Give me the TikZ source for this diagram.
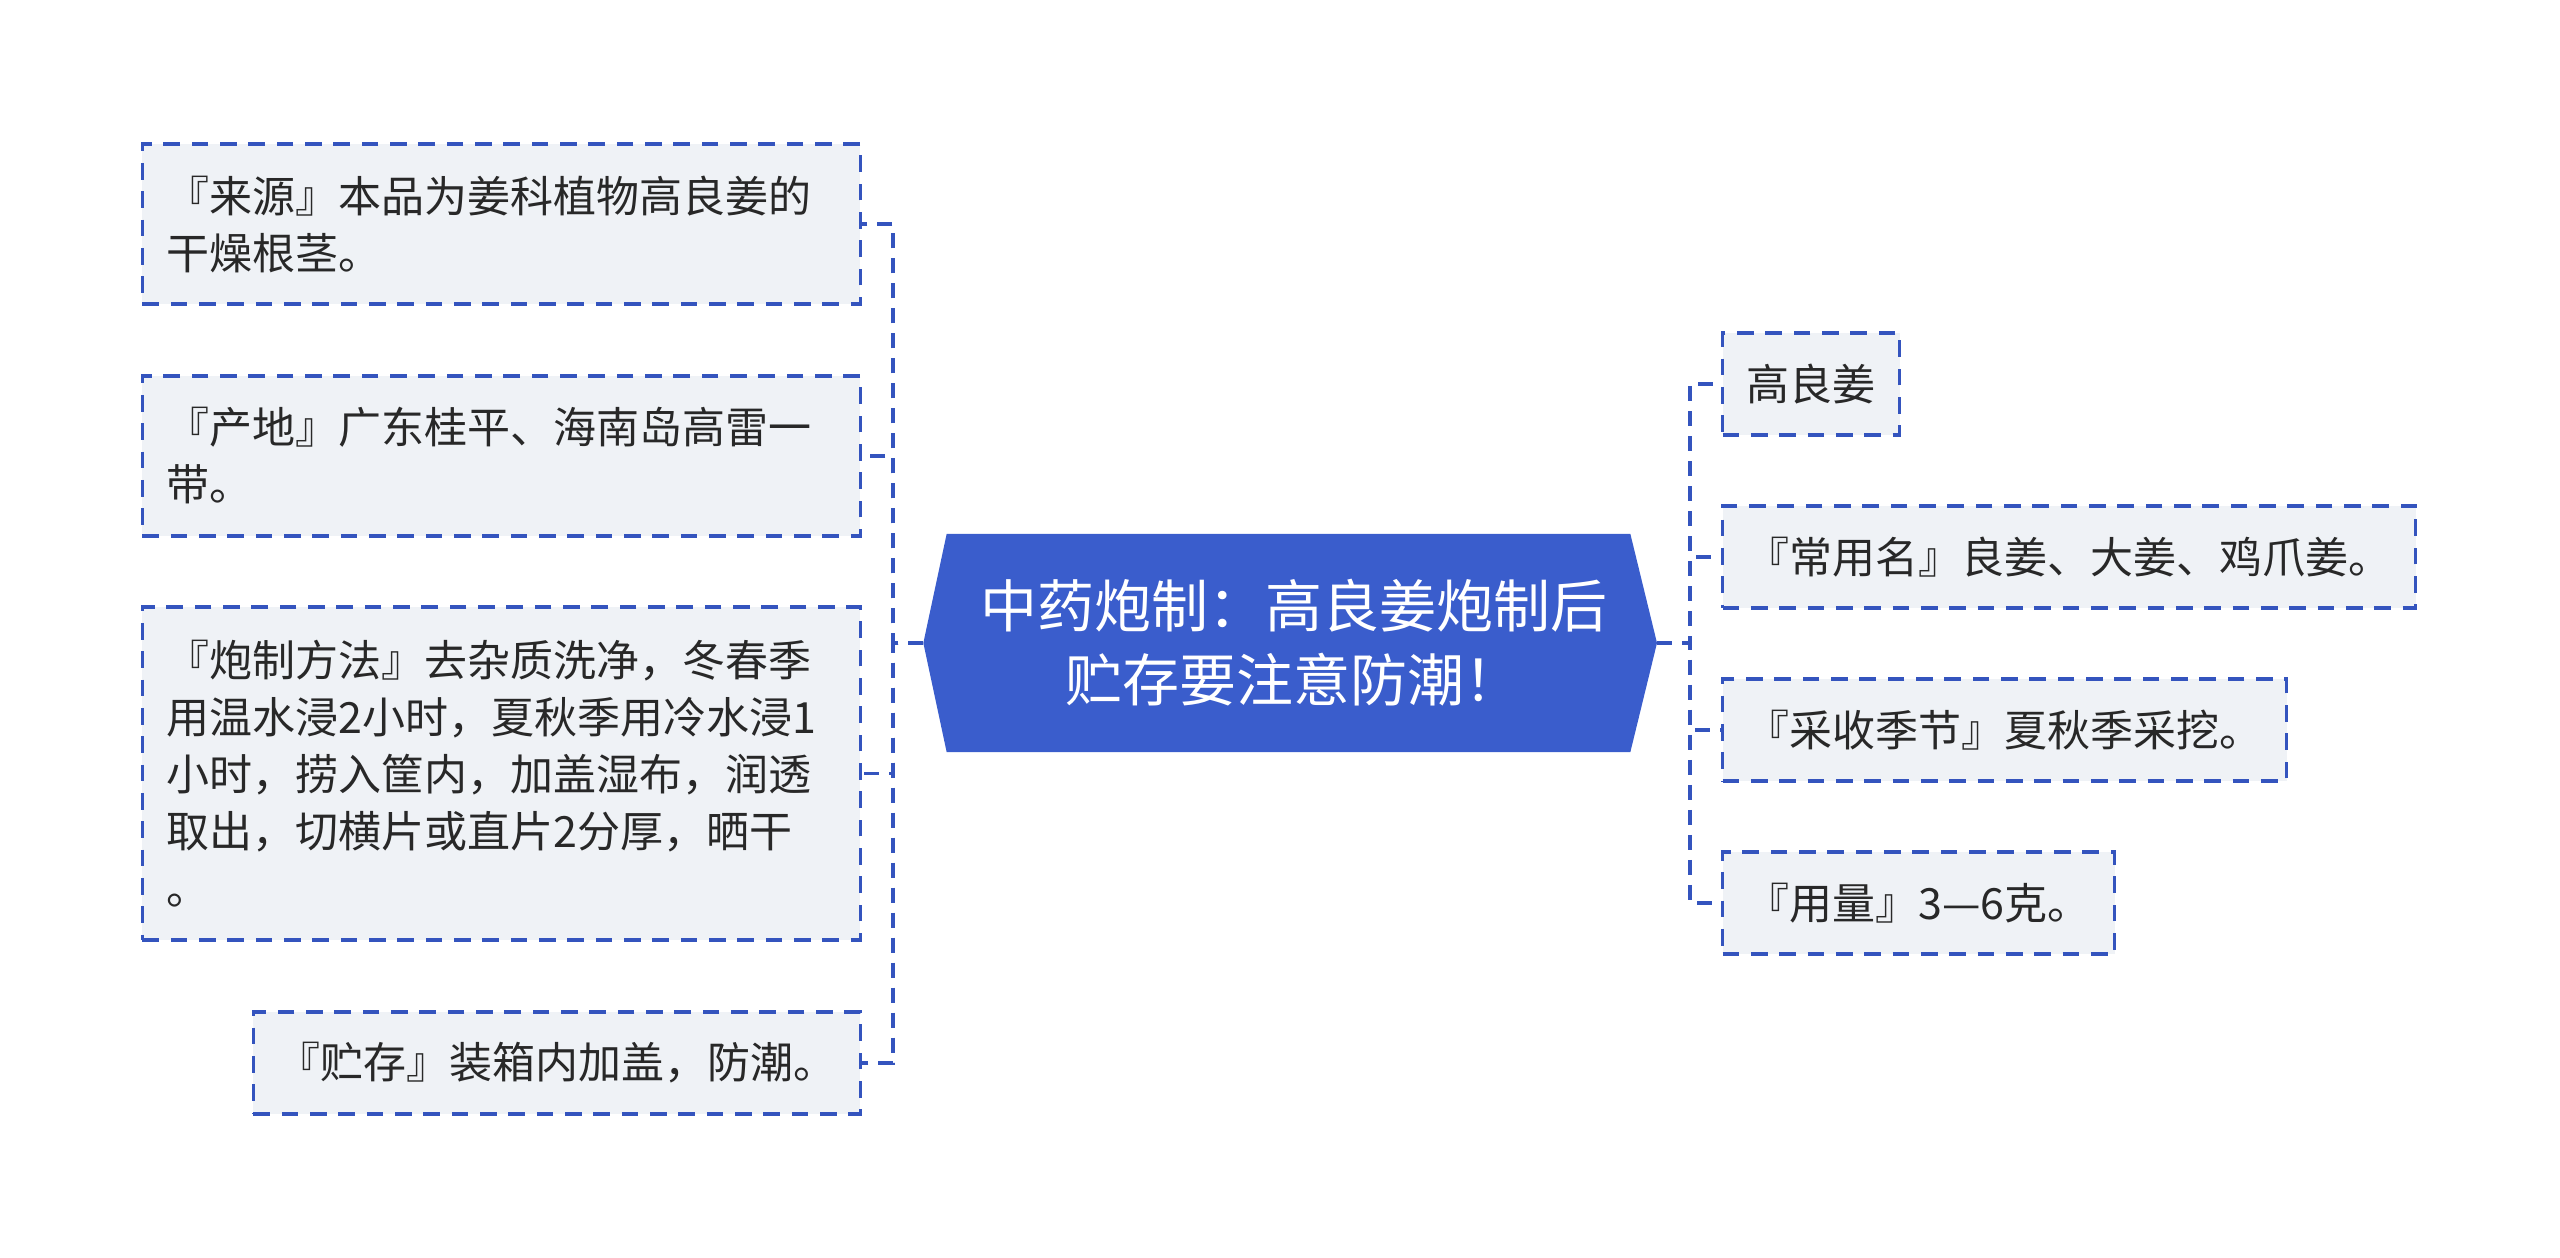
\documentclass[tikz,border=0pt]{standalone}
\usepackage{fontspec}
\setmainfont{Noto Sans CJK SC}
\usetikzlibrary{backgrounds}
\definecolor{rootblue}{RGB}{58,93,204}
\definecolor{linkblue}{RGB}{52,84,190}
\definecolor{boxgray}{RGB}{239,242,246}
\definecolor{textgray}{RGB}{40,40,40}
\tikzstyle{central}=[shape=rectangle,
                text=white,
                font=\fontsize{17.1pt}{22.2pt}\selectfont,
                align=center,
                minimum width=221.7pt,
                minimum height=65.1pt]
\tikzstyle{topic}=[shape=rectangle,
                fill=boxgray,
                draw=linkblue,
                line width=0.95pt,
                dash pattern=on 5pt off 3.5pt,
                text=textgray,
                font=\fontsize{12.9pt}{17.1pt}\selectfont,
                align=left,
                inner xsep=7.2pt,
                inner ysep=0pt,
                minimum height=30.6pt]
\tikzstyle{link}=[draw=linkblue,
                line width=1.15pt,
                dash pattern=on 4.5pt off 3pt]

\begin{document}
\begin{tikzpicture}[x=0.3pt,y=-0.3pt]
\useasboundingbox (0,0) rectangle (2560,1258);

% central topic
\node[central] (c) at (1293.5,643) {中药炮制：高良姜炮制后\\贮存要注意防潮！};
\begin{scope}[on background layer]
\fill[rootblue] (c.west) -- ([xshift=7pt]c.north west) -- ([xshift=-10pt]c.north east)
  -- ([xshift=-2pt]c.east) -- ([xshift=-10pt]c.south east) -- ([xshift=7pt]c.south west) -- cycle;
\end{scope}

% left topics
\node[topic,text width=201pt,minimum height=48pt,anchor=east] (l1) at (862,224)
  {『来源』本品为姜科植物高良姜的\\干燥根茎。};
\node[topic,text width=201pt,minimum height=48pt,anchor=east] (l2) at (862,456)
  {『产地』广东桂平、海南岛高雷一\\带。};
\node[topic,text width=201pt,minimum height=99.9pt,anchor=east] (l3) at (862,773.5)
  {『炮制方法』去杂质洗净，冬春季\\用温水浸2小时，夏秋季用冷水浸1\\小时，捞入筐内，加盖湿布，润透\\取出，切横片或直片2分厚，晒干\\。};
\node[topic,anchor=east] (l4) at (862,1063) {『贮存』装箱内加盖，防潮。};

% right topics
\node[topic,anchor=west] (r1) at (1721,384) {高良姜};
\node[topic,anchor=west] (r2) at (1721,557) {『常用名』良姜、大姜、鸡爪姜。};
\node[topic,anchor=west] (r3) at (1721,730) {『采收季节』夏秋季采挖。};
\node[topic,anchor=west] (r4) at (1721,903) {『用量』3—6克。};

% joints
\coordinate (jl) at (893,643);
\coordinate (jr) at (1690,643);

% links
\draw[link] (c.west) -- (jl) |- (l1.east);
\draw[link] (c.west) -- (jl) |- (l2.east);
\draw[link] (c.west) -- (jl) |- (l3.east);
\draw[link] (c.west) -- (jl) |- (l4.east);
\draw[link] ([xshift=-2pt]c.east) -- (jr) |- (r1.west);
\draw[link] ([xshift=-2pt]c.east) -- (jr) |- (r2.west);
\draw[link] ([xshift=-2pt]c.east) -- (jr) |- (r3.west);
\draw[link] ([xshift=-2pt]c.east) -- (jr) |- (r4.west);

\end{tikzpicture}
\end{document}
